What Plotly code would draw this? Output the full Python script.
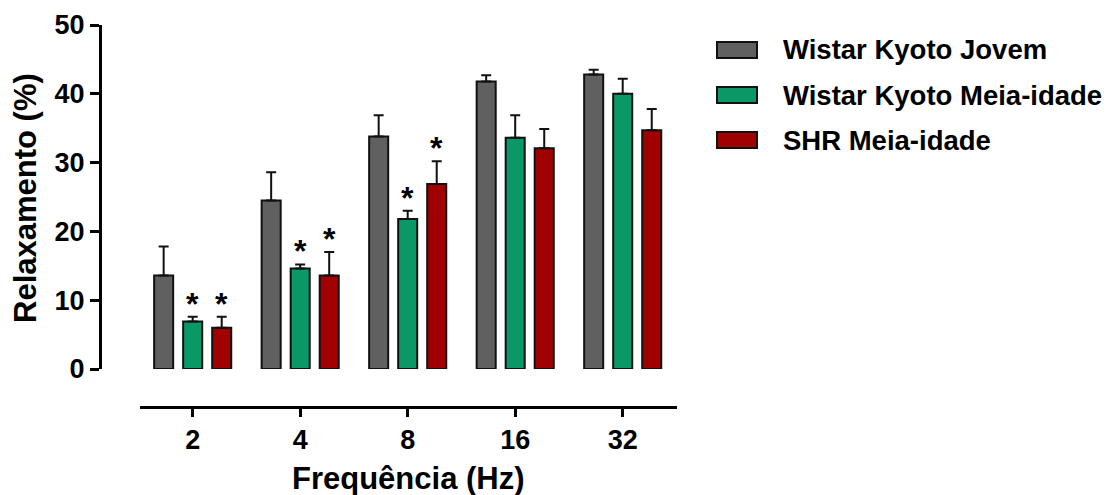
import plotly.graph_objects as go

# ---- data ----
frequencies = ["2", "4", "8", "16", "32"]
series_names = ["Wistar Kyoto Jovem", "Wistar Kyoto Meia-idade", "SHR Meia-idade"]
wky_jovem = [13.6, 24.5, 33.8, 41.8, 42.8]
wky_jovem_err = [4.2, 4.1, 3.1, 0.9, 0.7]
wky_meia = [6.9, 14.6, 21.8, 33.6, 40.0]
wky_meia_err = [0.7, 0.6, 1.2, 3.3, 2.2]
shr_meia = [6.0, 13.6, 26.9, 32.1, 34.7]
shr_meia_err = [1.6, 3.4, 3.3, 2.8, 3.1]
wky_meia_sig = [True, True, True, False, False]
shr_meia_sig = [True, True, True, False, False]
y_ticks = [0, 10, 20, 30, 40, 50]

colors = ["#606060", "#0a9966", "#a00000"]
W, H = 1110, 495
FONT = "Liberation Sans, Arial, sans-serif"

means = [wky_jovem, wky_meia, shr_meia]
errs = [wky_jovem_err, wky_meia_err, shr_meia_err]
sigs = [None, wky_meia_sig, shr_meia_sig]
xpos = list(range(len(frequencies)))

fig = go.Figure()
for name, m, e, c in zip(series_names, means, errs, colors):
    fig.add_trace(go.Bar(
        x=xpos, y=m, name=name,
        marker=dict(color=c, line=dict(color="#111111", width=2)),
        error_y=dict(type="data", array=e, arrayminus=[0] * len(e), symmetric=False,
                     color="#111111", thickness=2, width=5),
        showlegend=False,
    ))

# significance asterisks above error bars
slot = (1 - 0.19) / 3
annotations = []
for j, (m, e, s) in enumerate(zip(means, errs, sigs)):
    if s is None:
        continue
    for i, flag in enumerate(s):
        if flag:
            annotations.append(dict(
                x=i + (j - 1) * slot, y=m[i] + e[i], xref="x", yref="y",
                text="*", showarrow=False, yanchor="middle", yshift=13,
                font=dict(family=FONT, size=32, color="black", weight="bold")))

# axis titles
annotations.append(dict(x=25 / W, y=1 - 198 / H, xref="paper", yref="paper",
                        text="Relaxamento (%)", textangle=-90, showarrow=False,
                        xanchor="center", yanchor="middle",
                        font=dict(family=FONT, size=31, color="black", weight="bold")))
annotations.append(dict(x=408 / W, y=1 - 478 / H, xref="paper", yref="paper",
                        text="Frequência (Hz)", showarrow=False,
                        xanchor="center", yanchor="middle",
                        font=dict(family=FONT, size=31, color="black", weight="bold")))

# legend (manual)
shapes = []
row_y = [50, 95, 140]
for name, c, ry in zip(series_names, colors, row_y):
    shapes.append(dict(type="rect", xref="paper", yref="paper",
                       x0=717 / W, x1=757 / W, y0=1 - (ry + 8) / H, y1=1 - (ry - 8) / H,
                       fillcolor=c, line=dict(color="#111111", width=2)))
    annotations.append(dict(x=781 / W, y=1 - ry / H, xref="paper", yref="paper",
                            text=name, showarrow=False, xanchor="left", yanchor="middle",
                            font=dict(family=FONT, size=27.5, color="black", weight="bold")))

fig.update_layout(
    width=W, height=H,
    margin=dict(l=0, r=0, t=0, b=0, autoexpand=False),
    paper_bgcolor="white", plot_bgcolor="white",
    barmode="group", bargap=0.19, bargroupgap=0.344,
    font=dict(family=FONT, color="black", weight="bold"),
    xaxis=dict(domain=[140 / W, 677 / W], range=[-0.49, 4.505],
               anchor="free", position=1 - 407 / H, automargin=False,
               tickvals=xpos, ticktext=frequencies,
               showline=True, linewidth=3, linecolor="black",
               ticks="outside", ticklen=8, tickwidth=3, tickcolor="black",
               tickfont=dict(family=FONT, size=27, color="black", weight="bold"),
               showgrid=False, zeroline=False),
    yaxis=dict(domain=[1 - 369 / H, 1 - 25 / H], range=[0, 50],
               anchor="free", position=100 / W, automargin=False,
               tickvals=y_ticks,
               showline=True, linewidth=3, linecolor="black",
               ticks="outside", ticklen=9, tickwidth=3, tickcolor="black",
               tickfont=dict(family=FONT, size=27, color="black", weight="bold"),
               showgrid=False, zeroline=False),
    annotations=annotations,
    shapes=shapes,
)

fig.write_html("out.html")
